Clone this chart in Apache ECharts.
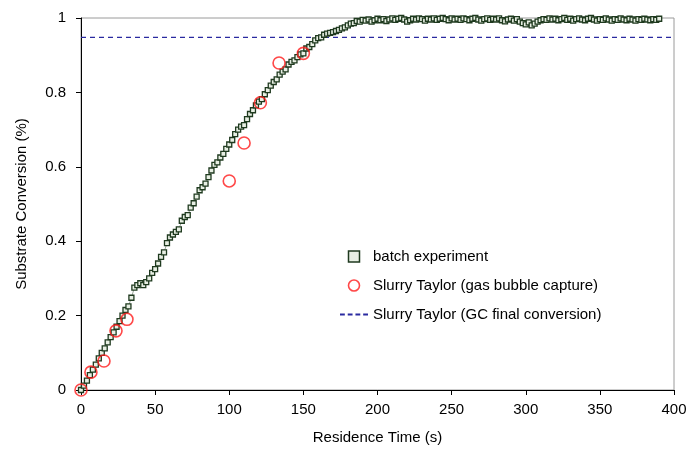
<!DOCTYPE html>
<html>
<head>
<meta charset="utf-8" />
<script src="https://cdn.jsdelivr.net/npm/echarts@6/dist/echarts.min.js"></script>
<style>
	html, body { margin: 0; padding: 0; background: #fff; }
	#main { width: 692px; height: 459px; }
</style>
</head>
<body>
<div id="main"></div>
<script type="text/javascript">
	// batch experiment: residence time (s) and conversion
	var batchT = [
		0, 2, 4, 6, 8, 10, 12, 14, 16, 18, 20, 22, 24, 26, 28, 30, 32, 34, 36, 38,
		40, 42, 44, 46, 48, 50, 52, 54, 56, 58, 60, 62, 64, 66, 68, 70, 72, 74, 76, 78,
		80, 82, 84, 86, 88, 90, 92, 94, 96, 98, 100, 102, 104, 106, 108, 110, 112, 114, 116, 118,
		120, 122, 124, 126, 128, 130, 132, 134, 136, 138, 140, 142, 144, 146, 148, 150, 152, 154, 156, 158,
		160, 162, 164, 166, 168, 170, 172, 174, 176, 178, 180, 182, 184, 186, 188, 190, 192, 194, 196, 198,
		200, 202, 204, 206, 208, 210, 212, 214, 216, 218, 220, 222, 224, 226, 228, 230, 232, 234, 236, 238,
		240, 242, 244, 246, 248, 250, 252, 254, 256, 258, 260, 262, 264, 266, 268, 270, 272, 274, 276, 278,
		280, 282, 284, 286, 288, 290, 292, 294, 296, 298, 300, 302, 304, 306, 308, 310, 312, 314, 316, 318,
		320, 322, 324, 326, 328, 330, 332, 334, 336, 338, 340, 342, 344, 346, 348, 350, 352, 354, 356, 358,
		360, 362, 364, 366, 368, 370, 372, 374, 376, 378, 380, 382, 384, 386, 388, 390
	];
	var batchY = [
		0.000, 0.012, 0.025, 0.040, 0.055, 0.068, 0.085, 0.100, 0.112, 0.128, 0.142, 0.155, 0.170, 0.185, 0.200, 0.215, 0.225, 0.248, 0.275, 0.282,
		0.287, 0.282, 0.290, 0.300, 0.315, 0.325, 0.340, 0.358, 0.370, 0.395, 0.410, 0.418, 0.425, 0.432, 0.455, 0.465, 0.470, 0.490, 0.502, 0.520,
		0.537, 0.545, 0.555, 0.572, 0.590, 0.605, 0.612, 0.625, 0.635, 0.648, 0.660, 0.672, 0.688, 0.700, 0.708, 0.712, 0.728, 0.742, 0.752, 0.765,
		0.775, 0.782, 0.795, 0.806, 0.818, 0.828, 0.835, 0.848, 0.856, 0.862, 0.875, 0.882, 0.886, 0.895, 0.902, 0.905, 0.918, 0.922, 0.930, 0.940,
		0.946, 0.948, 0.955, 0.958, 0.960, 0.962, 0.965, 0.968, 0.972, 0.975, 0.980, 0.985, 0.986, 0.992, 0.990, 0.995, 0.993, 0.996, 0.990, 0.994,
		0.998, 0.994, 0.997, 0.992, 0.996, 0.999, 0.995, 0.998, 1.000, 0.996, 0.990, 0.994, 0.998, 0.996, 0.999, 0.997, 0.993, 0.998, 0.996, 0.999,
		0.995, 0.998, 1.000, 0.997, 0.994, 0.999, 0.996, 0.998, 0.995, 0.999, 0.997, 0.994, 0.998, 1.000, 0.996, 0.993, 0.997, 0.999, 0.995, 0.998,
		0.996, 0.999, 0.994, 0.991, 0.996, 0.998, 0.993, 0.997, 0.990, 0.986, 0.983, 0.988, 0.980, 0.985, 0.990, 0.994, 0.997, 0.995, 0.999, 0.996,
		0.998, 0.994, 0.997, 1.000, 0.995, 0.998, 0.993, 0.997, 0.999, 0.996, 0.994, 0.998, 1.000, 0.996, 0.993, 0.997, 0.995, 0.999, 0.996, 0.993,
		0.997, 0.995, 0.999, 0.996, 0.994, 0.998, 0.996, 0.993, 0.997, 0.995, 0.998, 0.996, 0.994, 0.997, 0.995, 0.998
	];

	// Slurry Taylor, gas bubble capture
	var taylorT = [0, 6.7, 15.5, 23.6, 31, 100, 110, 121, 133.6, 150];
	var taylorY = [0, 0.048, 0.078, 0.159, 0.19, 0.562, 0.664, 0.772, 0.879, 0.905];

	// Slurry Taylor, GC final conversion
	var gcFinal = 0.948;

	var seriesNames = ['batch experiment', 'Slurry Taylor (gas bubble capture)', 'Slurry Taylor (GC final conversion)'];

	var batchData = [];
	for (var i = 0; i < batchT.length; i++) {
		batchData.push([batchT[i], batchY[i]]);
	}
	var taylorData = [];
	for (var k = 0; k < taylorT.length; k++) {
		taylorData.push([taylorT[k], taylorY[k]]);
	}

	var font = 'Arial, "Liberation Sans", sans-serif';
	var myChart = echarts.init(document.getElementById('main'));

	// dashed legend icon: four short dashes
	var dashIcon = 'path://M0,5H5V7H0Z M8,5H13V7H8Z M16,5H21V7H16Z M24,5H29V7H24Z';

	var option = {
		animation: false,
		backgroundColor: '#fff',
		grid: {
			left: 81, right: 18, top: 18, bottom: 69,
			show: true, borderColor: '#9a9a9a', borderWidth: 1
		},
		legend: {
			orient: 'vertical',
			left: 335, top: 244,
			itemGap: 14,
			itemWidth: 28, itemHeight: 11,
			textStyle: { fontFamily: font, fontSize: 15, color: '#000' },
			data: [
				{ name: seriesNames[0], icon: 'path://M10,3H19V12H10Z', itemStyle: { color: '#e8efe4', borderColor: '#1f3a1f', borderWidth: 1.5 } },
				{ name: seriesNames[1], icon: 'path://M14,1A6.5,6.5 0 1 1 13.99,1Z', itemStyle: { color: '#fff', borderColor: '#ff1a1a', borderWidth: 1.6 } },
				{ name: seriesNames[2], icon: dashIcon, itemStyle: { color: '#2a2aa0', borderWidth: 0 } }
			]
		},
		xAxis: {
			type: 'value',
			min: 0, max: 400, interval: 50,
			name: 'Residence Time (s)',
			nameLocation: 'middle',
			nameGap: 40,
			nameTextStyle: { fontFamily: font, fontSize: 15, color: '#000' },
			axisLine: { lineStyle: { color: '#000' } },
			axisTick: { inside: false, length: 5, lineStyle: { color: '#000' } },
			axisLabel: { fontFamily: font, fontSize: 15, color: '#000', margin: 12 },
			splitLine: { show: false }
		},
		yAxis: {
			type: 'value',
			min: 0, max: 1, interval: 0.2,
			name: 'Substrate Conversion (%)',
			nameLocation: 'middle',
			nameGap: 52,
			nameTextStyle: { fontFamily: font, fontSize: 15, color: '#000' },
			axisLine: { show: true, lineStyle: { color: '#000' } },
			axisTick: { show: true, inside: false, length: 5, lineStyle: { color: '#000' } },
			axisLabel: {
				fontFamily: font, fontSize: 15, color: '#000', margin: 15,
				formatter: function (v) { return String(Math.round(v * 10) / 10); }
			},
			splitLine: { show: false }
		},
		series: [
			{
				name: seriesNames[0],
				type: 'line',
				data: batchData,
				symbol: 'rect',
				symbolSize: 5,
				showAllSymbol: true,
				lineStyle: { color: '#7d8d7d', width: 0.8 },
				itemStyle: { color: '#e8efe4', borderColor: '#1f3a1f', borderWidth: 1.3 },
				z: 2
			},
			{
				name: seriesNames[1],
				type: 'scatter',
				data: taylorData,
				symbol: 'circle',
				symbolSize: 12,
				itemStyle: { color: 'rgba(255,255,255,0)', borderColor: '#ff1a1a', borderWidth: 1.6 },
				z: 3
			},
			{
				name: seriesNames[2],
				type: 'line',
				data: [[0, gcFinal], [400, gcFinal]],
				symbol: 'none',
				lineStyle: { color: '#2a2aa0', width: 1.2, type: [5, 4] },
				itemStyle: { color: '#2a2aa0' },
				z: 1
			}
		]
	};

	myChart.setOption(option);
</script>
</body>
</html>
